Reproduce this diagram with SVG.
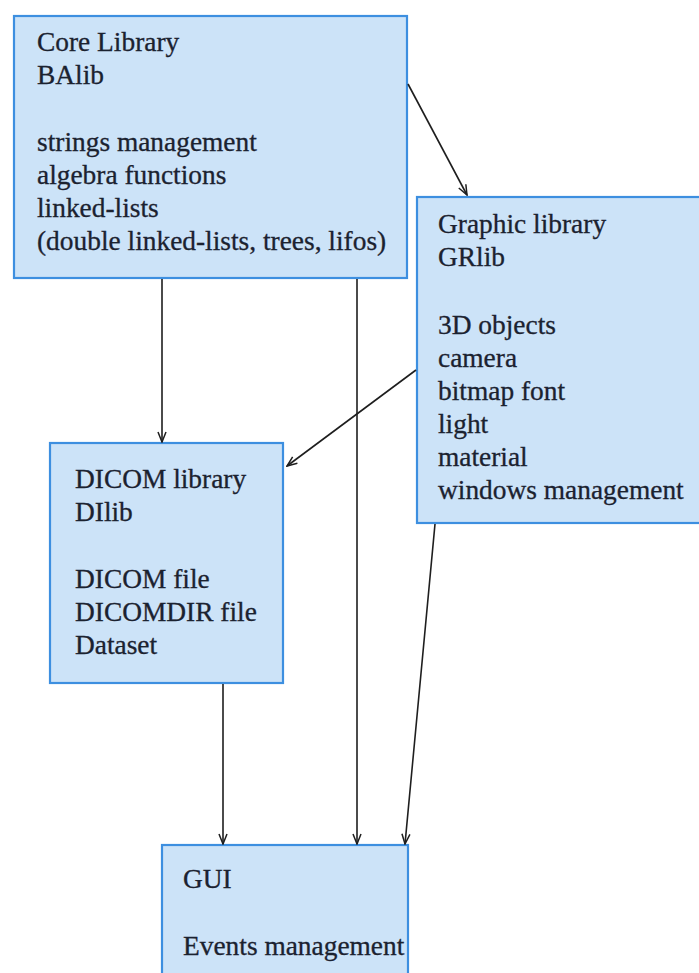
<svg xmlns="http://www.w3.org/2000/svg" width="699" height="973" viewBox="0 0 699 973">
  <defs>
    <style>
      .box { fill: #cce3f8; stroke: #3d8fe0; stroke-width: 2.2; }
      .lbl { font-family: 'Liberation Serif', 'Times New Roman', serif; font-size: 27.4px; fill: #1b2230; stroke: #1b2230; stroke-width: 0.3; }
      .edge { stroke: #1e1e1e; stroke-width: 1.6; fill: none; marker-end: url(#arrow); }
    </style>
    <marker id="arrow" viewBox="0 0 12 10" refX="11" refY="5" markerWidth="12" markerHeight="10" markerUnits="userSpaceOnUse" orient="auto">
      <path d="M1,1 L11,5 L1,9" fill="none" stroke="#1e1e1e" stroke-width="1.5"/>
    </marker>
  </defs>

  <rect width="699" height="973" fill="#ffffff"/>

  <!-- Core library -->
  <g id="core">
    <rect class="box" x="14" y="16" width="393" height="262"/>
    <text class="lbl" x="37" y="51">Core Library</text>
    <text class="lbl" x="37" y="84">BAlib</text>
    <text class="lbl" x="37" y="151">strings management</text>
    <text class="lbl" x="37" y="184">algebra functions</text>
    <text class="lbl" x="37" y="217">linked-lists</text>
    <text class="lbl" x="37" y="250">(double linked-lists, trees, lifos)</text>
  </g>

  <!-- Graphic library -->
  <g id="graphic">
    <rect class="box" x="417" y="197" width="300" height="326"/>
    <text class="lbl" x="438" y="233">Graphic library</text>
    <text class="lbl" x="438" y="266">GRlib</text>
    <text class="lbl" x="438" y="334">3D objects</text>
    <text class="lbl" x="438" y="367">camera</text>
    <text class="lbl" x="438" y="400">bitmap font</text>
    <text class="lbl" x="438" y="433">light</text>
    <text class="lbl" x="438" y="466">material</text>
    <text class="lbl" x="438" y="499">windows management</text>
  </g>

  <!-- DICOM library -->
  <g id="dicom">
    <rect class="box" x="50" y="443" width="233" height="240"/>
    <text class="lbl" x="75" y="488">DICOM library</text>
    <text class="lbl" x="75" y="521">DIlib</text>
    <text class="lbl" x="75" y="588">DICOM file</text>
    <text class="lbl" x="75" y="621">DICOMDIR file</text>
    <text class="lbl" x="75" y="654">Dataset</text>
  </g>

  <!-- GUI -->
  <g id="gui">
    <rect class="box" x="162" y="845" width="246" height="140"/>
    <text class="lbl" x="183" y="888">GUI</text>
    <text class="lbl" x="183" y="955">Events management</text>
  </g>

  <!-- dependencies -->
  <g id="connectors">
    <line class="edge" x1="162" y1="279" x2="162" y2="442"/>
    <line class="edge" x1="357" y1="279" x2="357" y2="844"/>
    <line class="edge" x1="408" y1="84" x2="467" y2="195"/>
    <line class="edge" x1="416" y1="370" x2="287" y2="466"/>
    <line class="edge" x1="223" y1="684" x2="223" y2="844"/>
    <line class="edge" x1="435" y1="524" x2="405" y2="844"/>
  </g>
</svg>
